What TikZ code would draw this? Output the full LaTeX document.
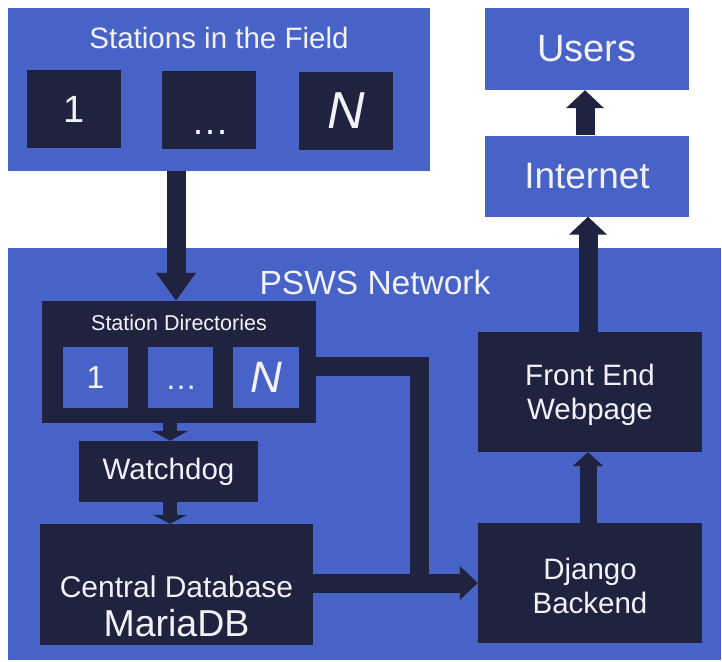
\documentclass[tikz,border=0pt]{standalone}
\usepackage{fontspec}
\setmainfont{Liberation Sans}
\usetikzlibrary{arrows.meta}
\definecolor{pblue}{RGB}{72,99,200}
\definecolor{pnavy}{RGB}{31,35,64}
\definecolor{ptext}{RGB}{242,242,246}
\newcommand{\fs}[1]{\fontsize{#1}{1.15\dimexpr #1pt\relax}\selectfont}
\begin{document}
\begin{tikzpicture}[x=1pt,y=-1pt,
  bluebox/.style={fill=pblue,draw=none,inner sep=0pt},
  navybox/.style={fill=pnavy,draw=none,inner sep=0pt},
  label/.style={text=ptext,inner sep=0pt,align=center},
  fat/.style={draw=pnavy,line width=#1,line join=miter},
  fat/.default=18pt,
  fatarrow/.style n args={3}{draw=pnavy,line width=#1,
    -{Triangle[width=#2,length=#3]}},
]
\useasboundingbox (0,0) rectangle (722,661);
\fill[white] (0,0) rectangle (722,661);

% stations in the field
\node[bluebox,minimum width=422pt,minimum height=163pt] (field) at (219,89.5) {};
\node[label,font=\fs{29.5}] at (219,38) {Stations in the Field};
\node[navybox,minimum width=94pt,minimum height=78pt,label,font=\fs{38}] (fs1) at (74,109) {1};
\node[navybox,minimum width=94pt,minimum height=78pt,label,font=\fs{38}] (fs2) at (209,110) {};
\node[label,font=\fs{38},anchor=base] at (210,134) {\ldots};
\node[navybox,minimum width=94pt,minimum height=78pt,label,font=\fs{52}\itshape] (fs3) at (346,111) {N};

% users and internet
\node[bluebox,minimum width=204pt,minimum height=82pt,label,font=\fs{38}] (users) at (587,49) {Users};
\node[bluebox,minimum width=204pt,minimum height=81pt,label,font=\fs{37}] (inet) at (587,176) {Internet};

% PSWS network
\node[bluebox,minimum width=713pt,minimum height=412pt] (psws) at (364.5,453.5) {};
\node[label,font=\fs{33.5}] at (375,283) {PSWS Network};

% station directories
\node[navybox,minimum width=274pt,minimum height=122pt] (sdir) at (179,362) {};
\node[label,font=\fs{21.5}] at (179,323) {Station Directories};
\node[bluebox,minimum width=65pt,minimum height=61pt,label,font=\fs{32}] (d1) at (95.5,377.5) {1};
\node[bluebox,minimum width=65pt,minimum height=61pt] (d2) at (180.5,377.5) {};
\node[label,font=\fs{32},anchor=base] at (181,389) {\ldots};
\node[bluebox,minimum width=66pt,minimum height=61pt,label,font=\fs{44}\itshape] (d3) at (266,377.5) {N};

\node[navybox,minimum width=179pt,minimum height=61pt,label,font=\fs{29.5}] (wd) at (168.5,471.5) {Watchdog};
\node[navybox,minimum width=273pt,minimum height=121pt] (db) at (176.5,584.5) {};
\node[label,font=\fs{30}] at (176.5,587) {Central Database};
\node[label,font=\fs{37.5}] at (176.5,623) {MariaDB};

% web side: boxes, then their two-line captions
\node[navybox,minimum width=224pt,minimum height=120pt] (fe) at (590,392) {};
\node[label,font=\fs{29.5}] at (590,395) {Front End\\[0pt]Webpage};
\node[navybox,minimum width=224pt,minimum height=120pt] (dj) at (590,583) {};
\node[label,font=\fs{29.5}] at (590,586) {Django\\[0pt]Backend};

% connectors
\coordinate (bend) at (419,366);
\coordinate (join) at (419,592);

\draw[fatarrow={19pt}{38pt}{28pt}] (field.south -| 176,0) -- (sdir.north -| 176,0);
\draw[fatarrow={14pt}{36pt}{10pt}] (sdir.south -| 170,0) -- (wd.north -| 170,0);
\draw[fatarrow={14pt}{34pt}{9pt}] (wd.south -| 170,0) -- (db.north -| 170,0);
\draw[fatarrow={19pt}{37pt}{18pt}] (inet.north -| 585,0) -- (users.south -| 585,0);
\draw[fatarrow={19pt}{37pt}{18pt}] (fe.north -| 588,0) -- (inet.south -| 588,0);
\draw[fatarrow={17pt}{30pt}{14pt}] (dj.north -| 588,0) -- (fe.south -| 588,0);
\draw[fat=19pt] (sdir.east |- bend) -- (bend) -- (join);
\draw[fatarrow={19pt}{33pt}{18pt}] (db.east |- 0,583) -- (dj.west |- 0,583);
\end{tikzpicture}
\end{document}
